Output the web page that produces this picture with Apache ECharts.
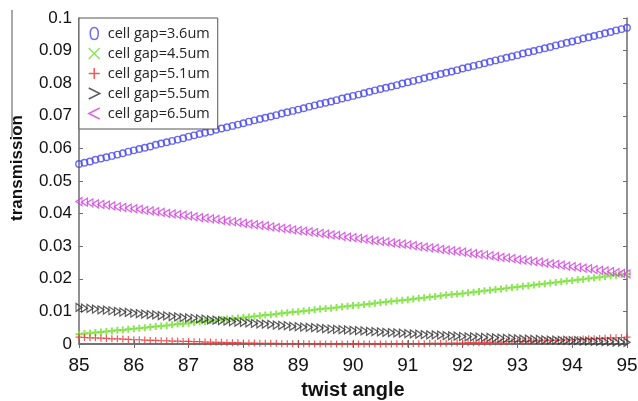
<!DOCTYPE html>
<html>
<head>
<meta charset="utf-8">
<script src="https://cdn.jsdelivr.net/npm/echarts@6/dist/echarts.min.js"></script>
<style>
  html, body { margin: 0; padding: 0; background: #fff; }
  #chart { width: 638px; height: 401px; }
</style>
</head>
<body>
<div id="chart"></div>
<script>
  // twist angle (deg), one sample every 0.1
  var angles = [
    85.0, 85.1, 85.2, 85.3, 85.4, 85.5, 85.6, 85.7, 85.8, 85.9,
    86.0, 86.1, 86.2, 86.3, 86.4, 86.5, 86.6, 86.7, 86.8, 86.9,
    87.0, 87.1, 87.2, 87.3, 87.4, 87.5, 87.6, 87.7, 87.8, 87.9,
    88.0, 88.1, 88.2, 88.3, 88.4, 88.5, 88.6, 88.7, 88.8, 88.9,
    89.0, 89.1, 89.2, 89.3, 89.4, 89.5, 89.6, 89.7, 89.8, 89.9,
    90.0, 90.1, 90.2, 90.3, 90.4, 90.5, 90.6, 90.7, 90.8, 90.9,
    91.0, 91.1, 91.2, 91.3, 91.4, 91.5, 91.6, 91.7, 91.8, 91.9,
    92.0, 92.1, 92.2, 92.3, 92.4, 92.5, 92.6, 92.7, 92.8, 92.9,
    93.0, 93.1, 93.2, 93.3, 93.4, 93.5, 93.6, 93.7, 93.8, 93.9,
    94.0, 94.1, 94.2, 94.3, 94.4, 94.5, 94.6, 94.7, 94.8, 94.9,
    95.0
  ];

  var gap36 = [
    0.0552, 0.0556, 0.0560, 0.0565, 0.0569, 0.0573, 0.0577, 0.0581, 0.0585, 0.0590,
    0.0594, 0.0598, 0.0602, 0.0606, 0.0611, 0.0615, 0.0619, 0.0623, 0.0627, 0.0631,
    0.0636, 0.0640, 0.0644, 0.0648, 0.0652, 0.0657, 0.0661, 0.0665, 0.0669, 0.0673,
    0.0677, 0.0682, 0.0686, 0.0690, 0.0694, 0.0698, 0.0702, 0.0707, 0.0711, 0.0715,
    0.0719, 0.0723, 0.0728, 0.0732, 0.0736, 0.0740, 0.0744, 0.0748, 0.0753, 0.0757,
    0.0761, 0.0765, 0.0769, 0.0774, 0.0778, 0.0782, 0.0786, 0.0790, 0.0794, 0.0799,
    0.0803, 0.0807, 0.0811, 0.0815, 0.0820, 0.0824, 0.0828, 0.0832, 0.0836, 0.0840,
    0.0845, 0.0849, 0.0853, 0.0857, 0.0861, 0.0866, 0.0870, 0.0874, 0.0878, 0.0882,
    0.0886, 0.0891, 0.0895, 0.0899, 0.0903, 0.0907, 0.0911, 0.0916, 0.0920, 0.0924,
    0.0928, 0.0932, 0.0937, 0.0941, 0.0945, 0.0949, 0.0953, 0.0957, 0.0962, 0.0966,
    0.0970
  ];

  var gap45 = [
    0.0030, 0.0032, 0.0033, 0.0035, 0.0037, 0.0038, 0.0040, 0.0042, 0.0043, 0.0045,
    0.0047, 0.0048, 0.0050, 0.0052, 0.0054, 0.0055, 0.0057, 0.0059, 0.0061, 0.0062,
    0.0064, 0.0066, 0.0068, 0.0069, 0.0071, 0.0073, 0.0075, 0.0077, 0.0078, 0.0080,
    0.0081, 0.0083, 0.0085, 0.0087, 0.0089, 0.0090, 0.0092, 0.0094, 0.0096, 0.0098,
    0.0099, 0.0101, 0.0103, 0.0105, 0.0107, 0.0109, 0.0110, 0.0112, 0.0114, 0.0116,
    0.0118, 0.0119, 0.0121, 0.0123, 0.0125, 0.0127, 0.0129, 0.0131, 0.0133, 0.0134,
    0.0136, 0.0138, 0.0140, 0.0142, 0.0144, 0.0146, 0.0148, 0.0150, 0.0152, 0.0153,
    0.0155, 0.0157, 0.0159, 0.0161, 0.0163, 0.0165, 0.0167, 0.0169, 0.0171, 0.0173,
    0.0175, 0.0177, 0.0179, 0.0181, 0.0183, 0.0185, 0.0187, 0.0189, 0.0191, 0.0193,
    0.0195, 0.0197, 0.0199, 0.0201, 0.0203, 0.0205, 0.0207, 0.0209, 0.0211, 0.0213,
    0.0215
  ];

  var gap51 = [
    0.0021, 0.0020, 0.0019, 0.0019, 0.0018, 0.0017, 0.0016, 0.0016, 0.0015, 0.0014,
    0.0013, 0.0013, 0.0012, 0.0011, 0.0011, 0.0010, 0.0010, 0.0009, 0.0009, 0.0008,
    0.0008, 0.0007, 0.0007, 0.0006, 0.0006, 0.0005, 0.0005, 0.0004, 0.0004, 0.0004,
    0.0003, 0.0003, 0.0003, 0.0002, 0.0002, 0.0002, 0.0002, 0.0001, 0.0001, 0.0001,
    0.0001, 0.0001, 0.0001, 0.0000, 0.0000, 0.0000, 0.0000, 0.0000, 0.0000, 0.0000,
    0.0000, 0.0000, 0.0000, 0.0000, 0.0000, 0.0000, 0.0000, 0.0000, 0.0001, 0.0001,
    0.0001, 0.0001, 0.0001, 0.0001, 0.0002, 0.0002, 0.0002, 0.0002, 0.0003, 0.0003,
    0.0003, 0.0004, 0.0004, 0.0004, 0.0005, 0.0005, 0.0006, 0.0006, 0.0007, 0.0007,
    0.0008, 0.0008, 0.0009, 0.0009, 0.0010, 0.0010, 0.0011, 0.0011, 0.0012, 0.0013,
    0.0013, 0.0014, 0.0015, 0.0016, 0.0016, 0.0017, 0.0018, 0.0019, 0.0019, 0.0020,
    0.0021
  ];

  var gap55 = [
    0.0112, 0.0110, 0.0109, 0.0107, 0.0105, 0.0104, 0.0102, 0.0100, 0.0098, 0.0097,
    0.0095, 0.0093, 0.0092, 0.0090, 0.0089, 0.0087, 0.0086, 0.0084, 0.0083, 0.0081,
    0.0080, 0.0079, 0.0077, 0.0076, 0.0074, 0.0073, 0.0072, 0.0070, 0.0069, 0.0067,
    0.0066, 0.0065, 0.0063, 0.0062, 0.0061, 0.0060, 0.0058, 0.0057, 0.0056, 0.0054,
    0.0053, 0.0052, 0.0051, 0.0050, 0.0049, 0.0047, 0.0046, 0.0045, 0.0044, 0.0043,
    0.0042, 0.0041, 0.0040, 0.0039, 0.0038, 0.0037, 0.0036, 0.0035, 0.0034, 0.0033,
    0.0032, 0.0031, 0.0030, 0.0029, 0.0028, 0.0028, 0.0027, 0.0026, 0.0025, 0.0024,
    0.0023, 0.0022, 0.0022, 0.0021, 0.0020, 0.0020, 0.0019, 0.0018, 0.0017, 0.0017,
    0.0016, 0.0015, 0.0015, 0.0014, 0.0014, 0.0013, 0.0012, 0.0012, 0.0011, 0.0011,
    0.0010, 0.0010, 0.0009, 0.0009, 0.0008, 0.0008, 0.0007, 0.0007, 0.0006, 0.0006,
    0.0005
  ];

  var gap65 = [
    0.0437, 0.0435, 0.0433, 0.0430, 0.0428, 0.0426, 0.0424, 0.0421, 0.0419, 0.0417,
    0.0415, 0.0413, 0.0410, 0.0408, 0.0406, 0.0404, 0.0401, 0.0399, 0.0397, 0.0395,
    0.0393, 0.0390, 0.0388, 0.0386, 0.0384, 0.0382, 0.0379, 0.0377, 0.0375, 0.0373,
    0.0370, 0.0368, 0.0366, 0.0364, 0.0362, 0.0359, 0.0357, 0.0355, 0.0353, 0.0350,
    0.0348, 0.0346, 0.0344, 0.0342, 0.0339, 0.0337, 0.0335, 0.0333, 0.0330, 0.0328,
    0.0326, 0.0324, 0.0322, 0.0319, 0.0317, 0.0315, 0.0313, 0.0310, 0.0308, 0.0306,
    0.0304, 0.0302, 0.0299, 0.0297, 0.0295, 0.0293, 0.0290, 0.0288, 0.0286, 0.0284,
    0.0282, 0.0279, 0.0277, 0.0275, 0.0273, 0.0271, 0.0268, 0.0266, 0.0264, 0.0262,
    0.0259, 0.0257, 0.0255, 0.0253, 0.0251, 0.0248, 0.0246, 0.0244, 0.0242, 0.0239,
    0.0237, 0.0235, 0.0233, 0.0231, 0.0228, 0.0226, 0.0224, 0.0222, 0.0219, 0.0217,
    0.0215
  ];

  var seriesNames = ['cell gap=3.6um', 'cell gap=4.5um', 'cell gap=5.1um', 'cell gap=5.5um', 'cell gap=6.5um'];
  var seriesValues = [gap36, gap45, gap51, gap55, gap65];

  var colors = ['#4646f4', '#6fe02a', '#ee3030', '#333333', '#d23ee0'];
  var plotSymbols = [
    'circle',
    'path://M5,0L5,10M0,5L10,5',
    'path://M5,0L5,10M0,5L10,5',
    'path://M0,0L10,5L0,10Z',
    'path://M10,0L0,5L10,10Z'
  ];
  var plotSizes = [6.5, 7, 7, [6, 8], [6, 8]];
  var plotWidths = [1.4, 2, 1.2, 1.2, 1.2];
  var legendIcons = [
    'path://M5,0C8,0 9,2.5 9,6C9,9.5 8,12 5,12C2,12 1,9.5 1,6C1,2.5 2,0 5,0Z',
    'path://M0,0L10,10M10,0L0,10',
    'path://M5,0L5,10M0,5L10,5',
    'path://M0,0L10,5L0,10',
    'path://M10,0L0,5L10,10'
  ];

  function pairs(xs, ys) {
    var out = [];
    for (var i = 0; i < xs.length; i++) out.push([xs[i], ys[i]]);
    return out;
  }

  var series = [];
  var legendData = [];
  for (var i = 0; i < seriesNames.length; i++) {
    series.push({
      type: 'scatter',
      name: seriesNames[i],
      data: pairs(angles, seriesValues[i]),
      symbol: plotSymbols[i],
      symbolSize: plotSizes[i],
      clip: false,
      itemStyle: {
        color: 'transparent',
        borderColor: colors[i],
        borderWidth: plotWidths[i]
      }
    });
    legendData.push({
      name: seriesNames[i],
      icon: legendIcons[i],
      itemStyle: {
        color: 'transparent',
        borderColor: colors[i],
        borderWidth: 1.5
      }
    });
  }

  var axisColor = '#6b6b6b';
  var labelFont = '"Liberation Sans", Arial, sans-serif';

  var chart = echarts.init(document.getElementById('chart'));
  chart.setOption({
    animation: false,
    backgroundColor: '#ffffff',
    grid: { left: 79, right: 11, top: 18, bottom: 57, outerBoundsMode: 'none', containLabel: false },
    legend: {
      orient: 'vertical',
      left: 79,
      top: 18,
      padding: [8, 8, 8, 9],
      itemGap: 5,
      itemWidth: 11,
      itemHeight: 12,
      backgroundColor: '#ffffff',
      borderColor: '#555',
      borderWidth: 1,
      selectedMode: false,
      data: legendData,
      textStyle: { fontFamily: '"Open Sans", "Noto Sans", sans-serif', fontSize: 14.5, color: '#222', padding: [0, 0, 0, 3] },
      z: 10
    },
    xAxis: [{
      type: 'value',
      min: 85,
      max: 95,
      interval: 1,
      name: 'twist angle',
      nameLocation: 'middle',
      nameGap: 36,
      nameTextStyle: { fontFamily: labelFont, fontSize: 20, fontWeight: 'bold', color: '#111' },
      axisLine: { show: true, lineStyle: { color: axisColor, width: 1.5 } },
      axisTick: { inside: true, length: 4, lineStyle: { color: axisColor } },
      axisLabel: { fontFamily: labelFont, fontSize: 19, color: '#111', margin: 12 },
      splitLine: { show: false }
    }, {
      type: 'value',
      position: 'top',
      min: 85,
      max: 95,
      interval: 1,
      axisLine: { show: true, lineStyle: { color: axisColor, width: 1.5 } },
      axisTick: { inside: true, length: 4, lineStyle: { color: axisColor } },
      axisLabel: { show: false },
      splitLine: { show: false }
    }],
    yAxis: [{
      type: 'value',
      min: 0,
      max: 0.1,
      interval: 0.01,
      name: 'transmission',
      nameLocation: 'middle',
      nameGap: 53,
      nameTextStyle: { fontFamily: labelFont, fontSize: 17, fontWeight: 'bold', color: '#111', padding: [0, 0, 0, 26] },
      axisLine: { show: true, lineStyle: { color: axisColor, width: 1.5 } },
      axisTick: { inside: true, length: 4, lineStyle: { color: axisColor } },
      axisLabel: { fontFamily: labelFont, fontSize: 17, color: '#111', margin: 7 },
      splitLine: { show: false }
    }, {
      type: 'value',
      position: 'right',
      min: 0,
      max: 0.1,
      interval: 0.01,
      axisLine: { show: true, lineStyle: { color: axisColor, width: 1.5 } },
      axisTick: { inside: true, length: 4, lineStyle: { color: axisColor } },
      axisLabel: { show: false },
      splitLine: { show: false }
    }],
    graphic: [{
      type: 'line',
      shape: { x1: 12, y1: 10, x2: 12, y2: 137 },
      style: { stroke: '#555', lineWidth: 1 }
    }],
    series: series
  });
</script>
</body>
</html>
